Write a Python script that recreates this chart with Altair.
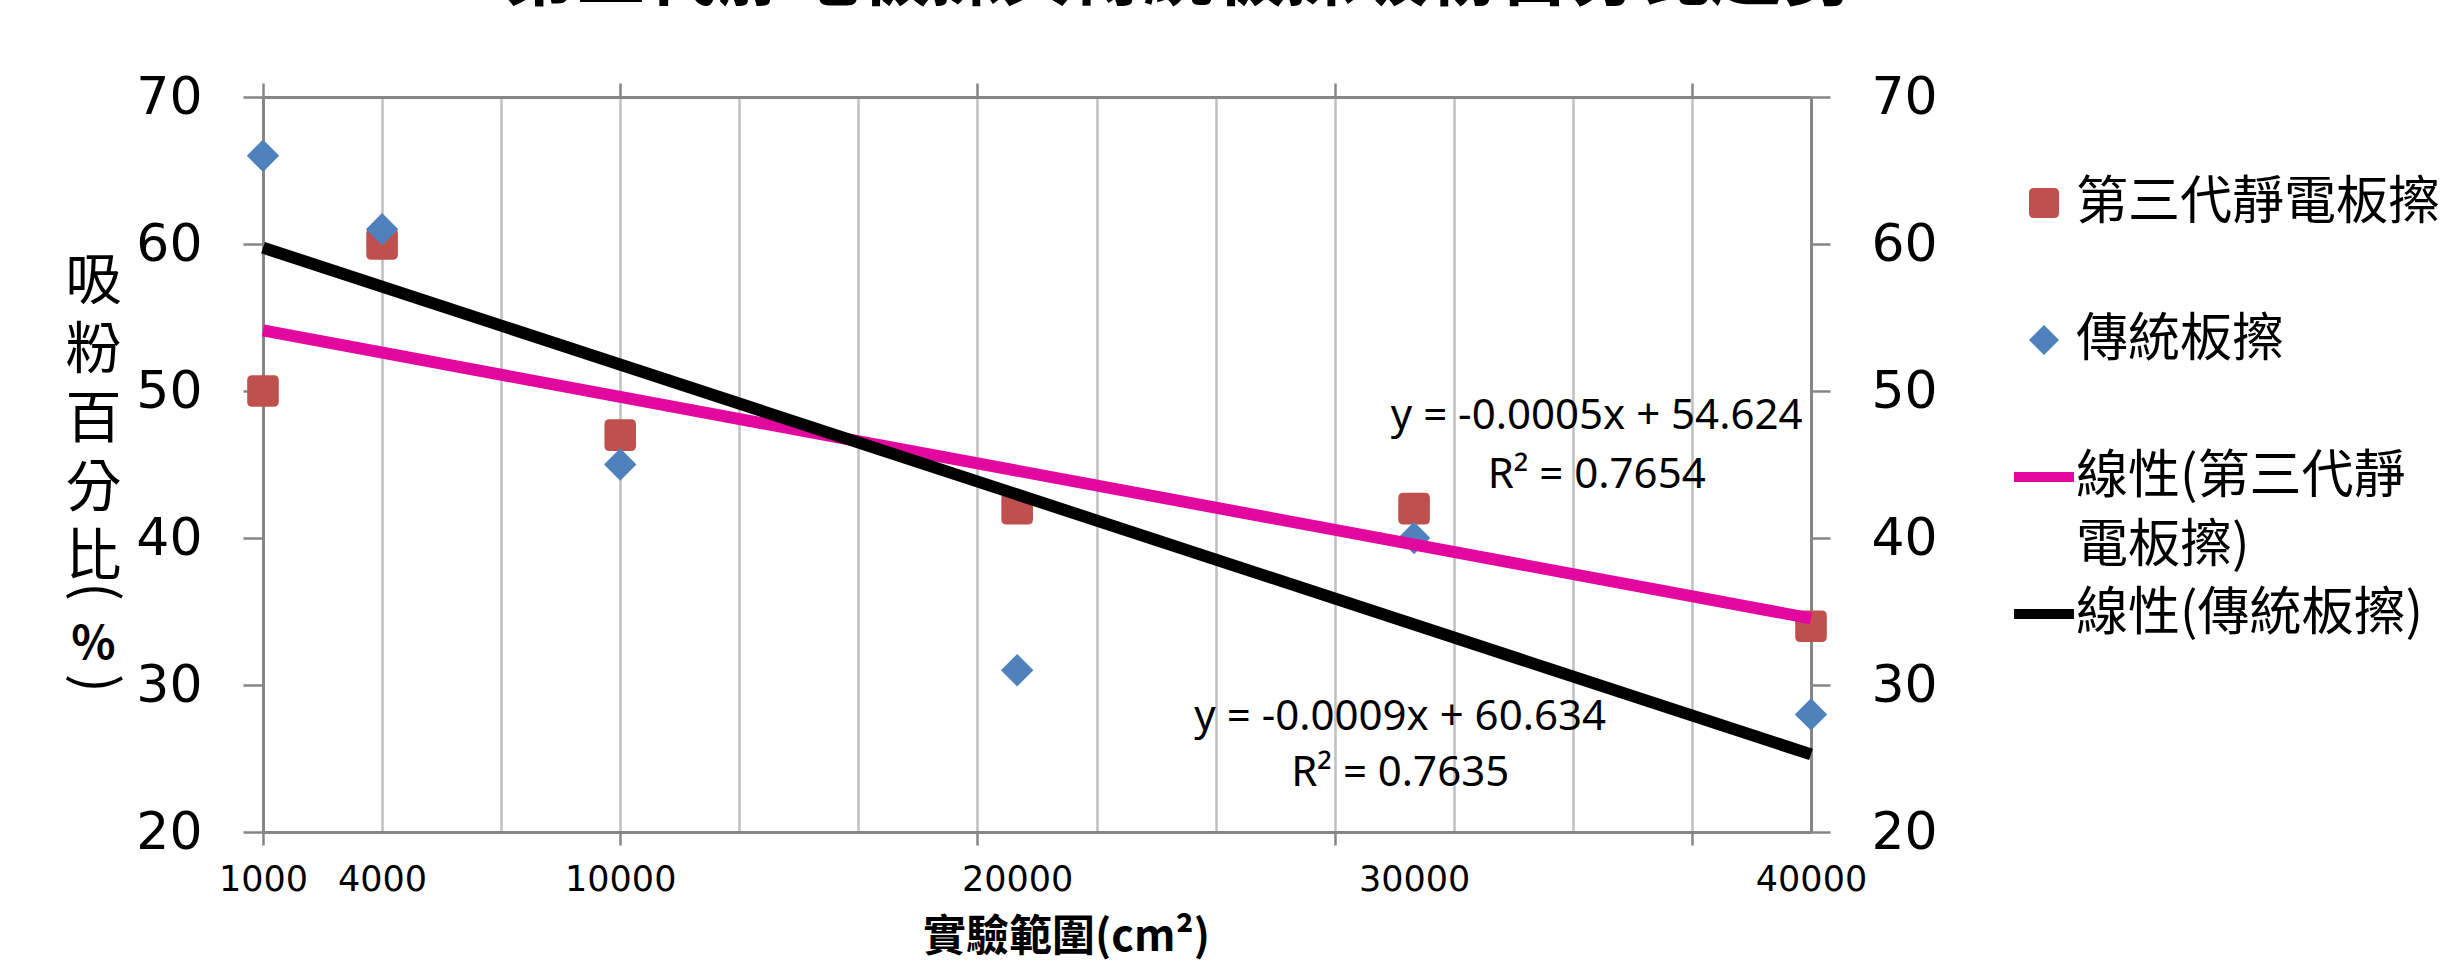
import altair as alt
import pandas as pd

# ---- data ----
area = [1000, 4000, 10000, 20000, 30000, 40000]
new_eraser = [50, 60, 47, 42, 42, 34]      # 第三代靜電板擦
old_eraser = [66, 61, 45, 31, 40, 28]      # 傳統板擦

series_names = ["第三代靜電板擦", "傳統板擦", "線性(第三代靜電板擦)", "線性(傳統板擦)"]
series_colors = ["#C0504D", "#4F81BD", "#E2079F", "#000000"]

x_label_values = [1000, 4000, 10000, 20000, 30000, 40000]
x_grid_values = [1000, 4000, 7000, 10000, 13000, 16000, 19000, 22000, 25000,
                 28000, 31000, 34000, 37000, 40000]
x_major_values = [1000, 10000, 19000, 28000, 37000]
y_values = [20, 30, 40, 50, 60, 70]

eq_text = ["y = -0.0005x + 54.624", "R² = 0.7654", "y = -0.0009x + 60.634", "R² = 0.7635"]
eq_x = [34600, 34600, 29650, 29650]
eq_y = [48.3, 44.3, 27.8, 24.0]

df_new = pd.DataFrame({"area": area, "value": new_eraser, "series": series_names[0]})
df_old = pd.DataFrame({"area": area, "value": old_eraser, "series": series_names[1]})
df_eq = pd.DataFrame({"t": eq_text, "ex": eq_x, "ey": eq_y})

ROUND_SQ = "M-0.67,-1H0.67Q1,-1 1,-0.67V0.67Q1,1 0.67,1H-0.67Q-1,1 -1,0.67V-0.67Q-1,-1 -0.67,-1Z"
BAR = "M-2.0,-0.34H2.0V0.34H-2.0Z"

AX = "#868686"
GRID = "#BFBFBF"

xs = alt.Scale(domain=[1000, 40000], nice=False, zero=False)
ys = alt.Scale(domain=[20, 70], nice=False, zero=False)

color_scale = alt.Scale(domain=series_names, range=series_colors)
shape_scale = alt.Scale(domain=series_names, range=[ROUND_SQ, "diamond", BAR, BAR])

label_expr = ("datum.label == '線性(傳統板擦)' ? datum.label : "
              "(datum.label == '線性(第三代靜電板擦)' ? ['線性(第三代靜', '電板擦)'] : [datum.label, ''])")


def make_legend():
    return alt.Legend(
        title=None, orient="none", legendX=1755, legendY=80, padding=0,
        labelExpr=label_expr, labelFont="Noto Sans CJK TC", labelFontSize=52,
        labelColor="#000000", labelLimit=700, labelOffset=6,
        symbolSize=900, symbolStrokeWidth=0, rowPadding=16, symbolOpacity=1,
    )


def blank_y_axis(title, angle, ty, size, weight="normal"):
    return alt.Axis(
        orient="left", grid=False, ticks=False, labels=False, domain=False,
        title=title, titleAngle=angle, titleX=-170, titleY=ty, titleAlign="center",
        titleBaseline="middle", titleFont="Noto Sans CJK TC", titleFontSize=size,
        titleFontWeight=weight, titleColor="#000000",
    )


color_enc = alt.Color("series:N", scale=color_scale, legend=make_legend())
shape_enc = alt.Shape("series:N", scale=shape_scale, legend=make_legend())

squares = alt.Chart(df_new).mark_point(filled=True, size=1000, opacity=1, strokeWidth=0).encode(
    x=alt.X("area:Q", scale=xs, axis=alt.Axis(
        orient="bottom", values=x_grid_values, grid=True, gridColor=GRID, gridWidth=2.5,
        ticks=False, labels=False, domain=False, title=None)),
    y=alt.Y("value:Q", scale=ys, axis=alt.Axis(
        orient="left", values=y_values, grid=False, ticks=True, tickSize=20, tickColor=AX,
        tickWidth=2.5, domain=True, domainColor=AX, domainWidth=3, labels=True,
        labelFont="DejaVu Sans", labelFontSize=52, labelPadding=41, labelColor="#000000",
        title=["吸", "粉", "百", "分", "比"], titleAngle=0, titleX=-170, titleY=184,
        titleAlign="center", titleBaseline="middle", titleFont="Noto Sans CJK TC",
        titleFontSize=56, titleLineHeight=69, titleFontWeight="normal", titleColor="#000000")),
    color=color_enc,
    shape=shape_enc,
)

diamonds = alt.Chart(df_old).mark_point(filled=True, size=1050, opacity=1, strokeWidth=0).encode(
    x=alt.X("area:Q", scale=xs, axis=alt.Axis(
        orient="bottom", values=x_label_values, grid=False, ticks=False, domain=False,
        labels=True, format="d", labelFont="DejaVu Sans", labelFontSize=35, labelPadding=30,
        labelColor="#000000", labelFlush=False, labelOverlap=False, title=None)),
    y=alt.Y("value:Q", scale=ys, axis=alt.Axis(
        orient="right", values=y_values, grid=False, ticks=True, tickSize=19, tickColor=AX,
        tickWidth=2.5, domain=True, domainColor=AX, domainWidth=3, labels=True,
        labelFont="DejaVu Sans", labelFontSize=52, labelPadding=41, labelColor="#000000",
        title=None)),
    color=color_enc,
    shape=shape_enc,
)

trend_new = alt.Chart(df_new).transform_regression("area", "value", method="linear").mark_line(
    color="#E2079F", strokeWidth=12).encode(
    x=alt.X("area:Q", scale=xs, axis=alt.Axis(
        orient="bottom", values=x_major_values, grid=False, ticks=True, tickSize=13,
        tickColor=AX, tickWidth=2.5, domain=True, domainColor=AX, domainWidth=3,
        labels=False, title="實驗範圍(cm²)", titleX=803, titleY=105, titleAlign="center",
        titleBaseline="middle", titleFont="Noto Sans CJK TC", titleFontSize=43,
        titleFontWeight="bold", titleColor="#000000")),
    y=alt.Y("value:Q", scale=ys, axis=blank_y_axis("(", 90, 494, 56)),
)

trend_old = alt.Chart(df_old).transform_regression("area", "value", method="linear").mark_line(
    color="#000000", strokeWidth=12).encode(
    x=alt.X("area:Q", scale=xs, axis=alt.Axis(
        orient="top", values=x_major_values, grid=False, ticks=True, tickSize=14,
        tickColor=AX, tickWidth=2.5, domain=True, domainColor=AX, domainWidth=3,
        labels=False, title=None)),
    y=alt.Y("value:Q", scale=ys, axis=blank_y_axis("%", 0, 547, 46, "bold")),
)

equations = alt.Chart(df_eq).mark_text(
    font="Noto Sans", fontSize=42, color="#000000", align="center", baseline="middle").encode(
    x=alt.X("ex:Q", scale=xs, axis=None),
    y=alt.Y("ey:Q", scale=ys, axis=blank_y_axis(")", 90, 586, 56)),
    text="t:N",
)

chart = alt.layer(squares, diamonds, trend_new, trend_old, equations).resolve_axis(
    x="independent", y="independent"
).properties(
    width=1548, height=735,
    autosize=alt.AutoSizeParams(type="none"),
    padding={"left": 263, "top": 97, "right": 647, "bottom": 130},
    title=alt.TitleParams(
        "第三代靜電板擦與傳統板擦吸粉百分比趨勢", fontSize=71, font="Noto Sans CJK TC",
        fontWeight="bold", anchor="middle", frame="group", offset=57, dx=142, color="#000000"),
    background="white",
).configure(
    view=alt.ViewConfig(stroke=None),
    style={"guide-label": alt.MarkConfig(lineHeight=69)},
)

chart.save("out.html", embed_options={"renderer": "svg", "actions": False})
